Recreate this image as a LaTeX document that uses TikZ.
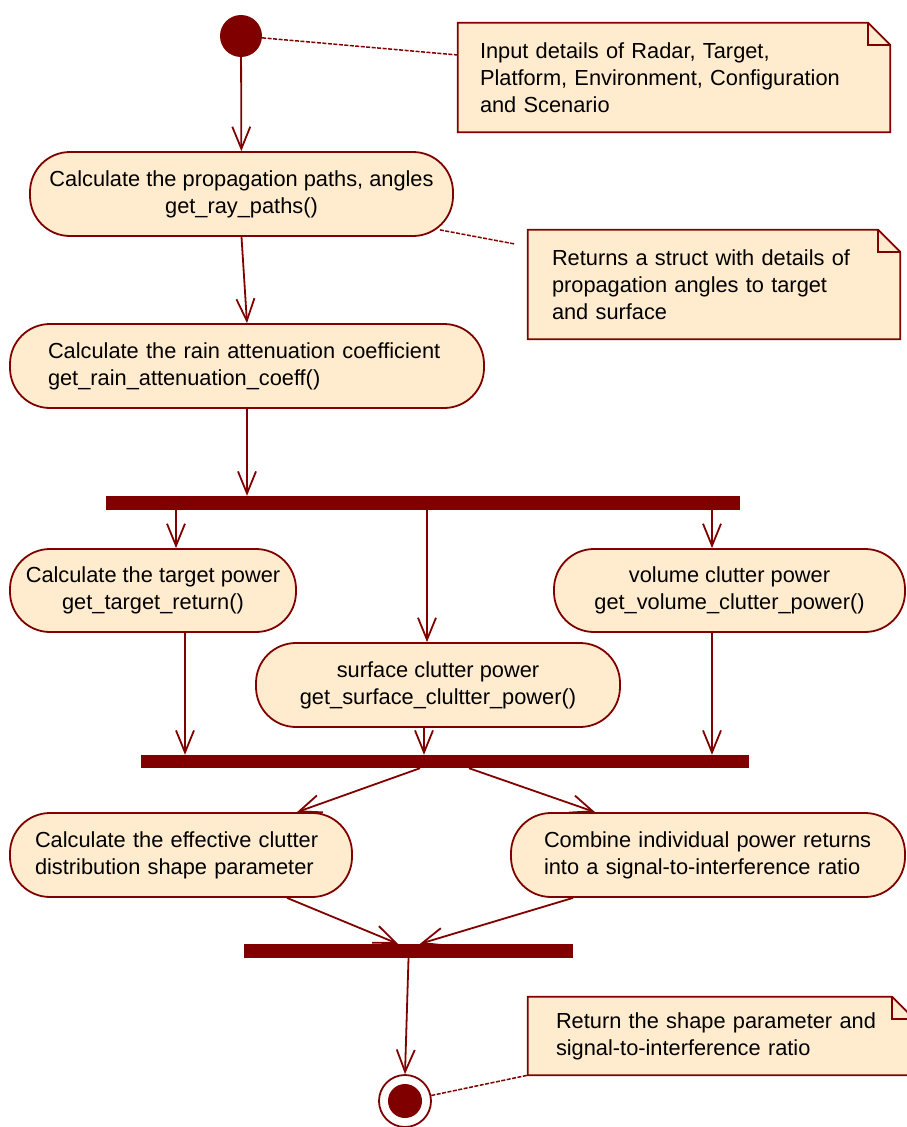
\documentclass[tikz,border=0pt]{standalone}
\usepackage{fontspec}
\setmainfont{Liberation Sans}
\usetikzlibrary{arrows.meta,backgrounds,calc}
\definecolor{umlred}{HTML}{800000}
\definecolor{umlfill}{HTML}{FFEBCD}
\begin{document}
\begin{tikzpicture}[x=1pt,y=-1pt,
  font=\fontsize{21.8}{27}\selectfont,
  action/.style={draw=umlred, fill=umlfill, line width=1.8pt, rounded corners=40pt,
    minimum height=84pt, inner sep=0pt},
  bar/.style={fill=umlred, draw=none, inner sep=0pt, minimum height=14pt},
  arr/.style={draw=umlred, line width=1.8pt,
    -{Straight Barb[length=22pt,width=18pt,line width=1.8pt]}},
  notetext/.style={inner sep=0pt, align=left},
  notebox/.style={fill=umlfill, draw=umlred, line width=1.8pt},
  link/.style={draw=umlred, line width=1.5pt, dash pattern=on 4pt off 1.5pt}
]
\useasboundingbox (0,0) rectangle (906,1127);

% initial and final
\node[circle, fill=umlred, minimum size=42pt, inner sep=0pt] (start) at (241,36) {};
\node[circle, draw=umlred, line width=1.8pt, fill=white, minimum size=52pt, inner sep=0pt] (final) at (405,1101) {};
\node[circle, fill=umlred, minimum size=34pt, inner sep=0pt] (finalin) at (final) {};

% actions
\node[action, minimum width=423pt, align=center] (n1) at (241.5,194)
  {Calculate the propagation paths, angles\\get\_ray\_paths()};
\node[action, minimum width=474pt, text width=398pt, align=left] (n2) at (247,366)
  {Calculate the rain attenuation coefficient\\get\_rain\_attenuation\_coeff()};
\node[action, minimum width=286pt, minimum height=83pt, align=center] (tgt) at (153,590.5)
  {Calculate the target power\\get\_target\_return()};
\node[action, minimum width=351pt, minimum height=83pt, align=center] (vol) at (729.5,590.5)
  {volume clutter power\\get\_volume\_clutter\_power()};
\node[action, minimum width=364pt, align=center] (surf) at (438,685)
  {surface clutter power\\get\_surface\_clultter\_power()};
\node[action, minimum width=342pt, text width=292pt, align=left] (eff) at (181,855)
  {Calculate the effective clutter\\distribution shape parameter};
\node[action, minimum width=394pt, text width=328pt, align=left] (comb) at (708,855)
  {Combine individual power returns\\into a signal-to-interference ratio};

% bars
\node[bar, minimum width=634pt] (fork1) at (423,503) {};
\node[bar, minimum width=608pt, minimum height=13pt] (join1) at (445,761.5) {};
\node[bar, minimum width=329pt] (join2) at (408.5,951) {};

% notes
\node[notetext, minimum width=432pt, minimum height=109pt, text width=388pt] (note1) at (674,77.5)
  {Input details of Radar, Target,\\Platform, Environment, Configuration\\and Scenario};
\node[notetext, minimum width=372pt, minimum height=109pt, text width=324pt] (note2) at (714,284.5)
  {Returns a struct with details of\\propagation angles to target\\and surface};
\node[notetext, minimum width=386pt, minimum height=78pt, text width=330pt] (note3) at (721,1036)
  {Return the shape parameter and\\signal-to-interference ratio};

\begin{scope}[on background layer]
\foreach \n in {note1,note2,note3}{
  \path[notebox] (\n.north west) -- ([xshift=-22pt]\n.north east)
    -- ([yshift=-22pt]\n.north east) -- (\n.south east) -- (\n.south west) -- cycle;
  \draw[umlred, line width=1.8pt] ([xshift=-22pt]\n.north east)
    -- ([xshift=-22pt,yshift=-22pt]\n.north east) -- ([yshift=-22pt]\n.north east);
}
\end{scope}

% flow
\draw[arr] (start) -- (n1);
\draw[arr] (n1.south) -- (n2.north);
\draw[arr] (n2.south) -- (n2.south |- fork1.north);
\draw[arr] ([xshift=23pt]tgt.north |- fork1.south) -- ([xshift=23pt]tgt.north);
\draw[arr] ([xshift=-11pt]surf.north |- fork1.south) -- ([xshift=-11pt]surf.north);
\draw[arr] ([xshift=-17.5pt]vol.north |- fork1.south) -- ([xshift=-17.5pt]vol.north);
\draw[arr] ([xshift=32pt]tgt.south) -- ([xshift=32pt]tgt.south |- join1.north);
\draw[arr] ([xshift=-14pt]surf.south) -- ([xshift=-14pt]surf.south |- join1.north);
\draw[arr] ([xshift=-17.5pt]vol.south) -- ([xshift=-17.5pt]vol.south |- join1.north);
\draw[arr] ([xshift=-25pt]join1.south) -- ([xshift=116pt]eff.north);
\draw[arr] ([xshift=24pt]join1.south) -- ([xshift=-113pt]comb.north);
\draw[arr] ([xshift=106pt]eff.south) -- ([xshift=-10.5pt]join2.north);
\draw[arr] ([xshift=-135pt]comb.south) -- ([xshift=11.5pt]join2.north);
\draw[arr] (join2.south) -- (final.north);

% note links
\draw[link] (start) -- ([yshift=22.5pt]note1.west);
\draw[link] ([xshift=-14pt,yshift=7pt]n1.south east) -- ([xshift=-13pt,yshift=40.5pt]note2.west);
\draw[link] (final) -- (note3.south west);
\end{tikzpicture}
\end{document}
